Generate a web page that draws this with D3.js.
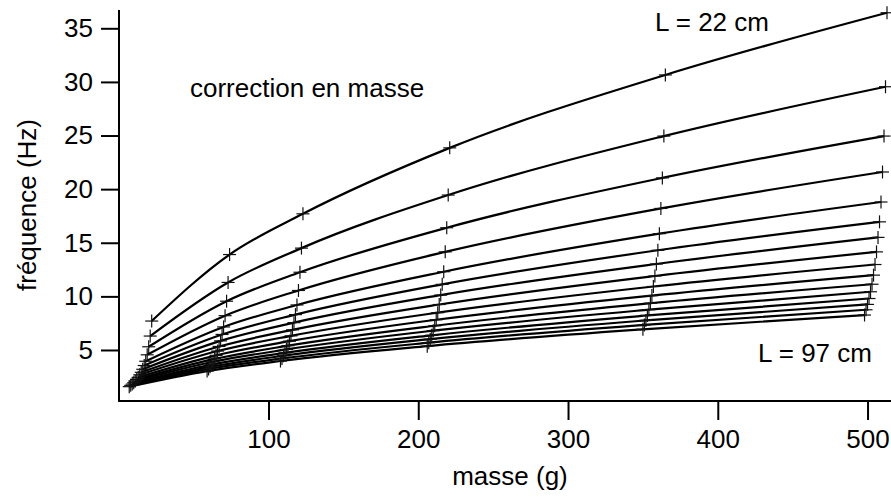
<!DOCTYPE html>
<html>
<head>
<meta charset="utf-8">
<script src="https://cdn.jsdelivr.net/npm/d3@7"></script>
<style>
  html, body { margin: 0; padding: 0; background: #fff; }
  svg { display: block; }
  text { font-family: "Liberation Sans", Arial, Helvetica, sans-serif; fill: #000; }
</style>
</head>
<body>
<svg id="chart" width="891" height="497"></svg>
<script>
// String lengths (cm), one curve per length
const lengths = [22, 27, 32, 37, 42, 47, 52, 57, 62, 67, 72, 77, 82, 87, 92, 97];

// Corrected masses (g) for each string
const masses = [
  [22, 74, 123, 221, 365, 513],
  [21, 73, 122, 220, 364, 512],
  [20, 72, 121, 219, 363, 511],
  [19, 71, 120, 218, 362, 510],
  [18, 70, 119, 217, 361, 509],
  [17, 69, 118, 216, 360, 508],
  [16, 68, 117, 215, 359, 507],
  [15, 67, 116, 214, 358, 506],
  [14, 66, 115, 213, 357, 505],
  [13, 65, 114, 212, 356, 504],
  [12, 64, 113, 211, 355, 503],
  [11, 63, 112, 210, 354, 502],
  [10, 62, 111, 209, 353, 501],
  [9, 61, 110, 208, 352, 500],
  [8, 60, 109, 207, 351, 499],
  [7, 59, 108, 206, 350, 498]
];

// Measured frequencies (Hz) for each string
const freqs = [
  [7.7, 13.9, 17.7, 23.85, 30.65, 36.45],
  [6.3, 11.3, 14.5, 19.45, 24.95, 29.55],
  [5.3, 9.55, 12.25, 16.4, 21.05, 24.95],
  [4.55, 8.2, 10.55, 14.15, 18.2, 21.6],
  [3.95, 7.15, 9.2, 12.3, 15.85, 18.8],
  [3.55, 6.45, 8.3, 11.12, 14.3, 16.95],
  [3.2, 5.85, 7.55, 10.12, 13.02, 15.5],
  [2.92, 5.33, 6.88, 9.24, 11.9, 14.15],
  [2.68, 4.9, 6.32, 8.48, 10.92, 12.97],
  [2.45, 4.5, 5.82, 7.82, 10.07, 11.98],
  [2.25, 4.17, 5.4, 7.26, 9.36, 11.13],
  [2.1, 3.9, 5.05, 6.8, 8.76, 10.43],
  [1.95, 3.64, 4.73, 6.37, 8.22, 9.8],
  [1.82, 3.43, 4.46, 6.01, 7.76, 9.25],
  [1.7, 3.23, 4.21, 5.68, 7.34, 8.75],
  [1.58, 3.03, 3.97, 5.36, 6.93, 8.26]
];

const xTicks = [100, 200, 300, 400, 500];
const yTicks = [5, 10, 15, 20, 25, 30, 35];

const svg = d3.select("#chart");
const fontSize = 26;

const x = d3.scaleLinear().domain([0, 515]).range([118.75, 890]);
const y = d3.scaleLinear().domain([0, 35]).range([403.6, 28.3]);

const axisTop = 10, axisBottom = 401, axisLeft = 119, axisRight = 891;

// Axes
const yAxis = d3.axisLeft(y).tickValues(yTicks).tickSize(18).tickPadding(8).tickFormat(d3.format("d"));
const gy = svg.append("g").attr("transform", `translate(${axisLeft},0)`).call(yAxis);
gy.select(".domain").remove();
gy.selectAll(".tick line").attr("stroke", "#000").attr("stroke-width", 2);
gy.selectAll(".tick text").attr("font-size", fontSize).attr("fill", "#000");

const xAxis = d3.axisBottom(x).tickValues(xTicks).tickSize(19).tickPadding(10).tickFormat(d3.format("d"));
const gx = svg.append("g").attr("transform", `translate(0,${axisBottom})`).call(xAxis);
gx.select(".domain").remove();
gx.selectAll(".tick line").attr("stroke", "#000").attr("stroke-width", 2);
gx.selectAll(".tick text").attr("font-size", fontSize).attr("fill", "#000");

svg.append("line")
  .attr("x1", axisLeft).attr("x2", axisLeft)
  .attr("y1", axisTop).attr("y2", axisBottom + 1)
  .attr("stroke", "#000").attr("stroke-width", 2);
svg.append("line")
  .attr("x1", axisLeft - 1).attr("x2", axisRight)
  .attr("y1", axisBottom).attr("y2", axisBottom)
  .attr("stroke", "#000").attr("stroke-width", 2);

// Curves
const series = lengths.map((L, i) => ({
  L,
  pts: masses[i].map((m, j) => ({ m, f: freqs[i][j] }))
}));

const line = d3.line()
  .x(d => x(d.m))
  .y(d => y(d.f))
  .curve(d3.curveMonotoneX);

svg.append("g").selectAll("path")
  .data(series)
  .join("path")
  .attr("d", d => line(d.pts))
  .attr("fill", "none")
  .attr("stroke", "#000")
  .attr("stroke-width", 2.2);

// Cross markers at the measured points
const cross = 6.5;
const markers = svg.append("g").attr("stroke", "#111").attr("stroke-width", 1.2);
series.forEach(s => {
  s.pts.forEach(p => {
    const cx = x(p.m), cy = y(p.f);
    markers.append("line").attr("x1", cx - cross).attr("x2", cx + cross).attr("y1", cy).attr("y2", cy);
    markers.append("line").attr("x1", cx).attr("x2", cx).attr("y1", cy - cross).attr("y2", cy + cross);
  });
});

// Labels
svg.append("text").attr("x", 510).attr("y", 485).attr("text-anchor", "middle")
  .attr("font-size", fontSize).text("masse (g)");
svg.append("text")
  .attr("transform", "translate(36,205) rotate(-90)")
  .attr("text-anchor", "middle").attr("font-size", fontSize).text("fréquence (Hz)");
svg.append("text").attr("x", 190).attr("y", 97).attr("font-size", fontSize).text("correction en masse");
svg.append("text").attr("x", 655).attr("y", 31).attr("font-size", fontSize)
  .text(`L = ${lengths[0]} cm`);
svg.append("text").attr("x", 758).attr("y", 362).attr("font-size", fontSize)
  .text(`L = ${lengths[lengths.length - 1]} cm`);
</script>
</body>
</html>
